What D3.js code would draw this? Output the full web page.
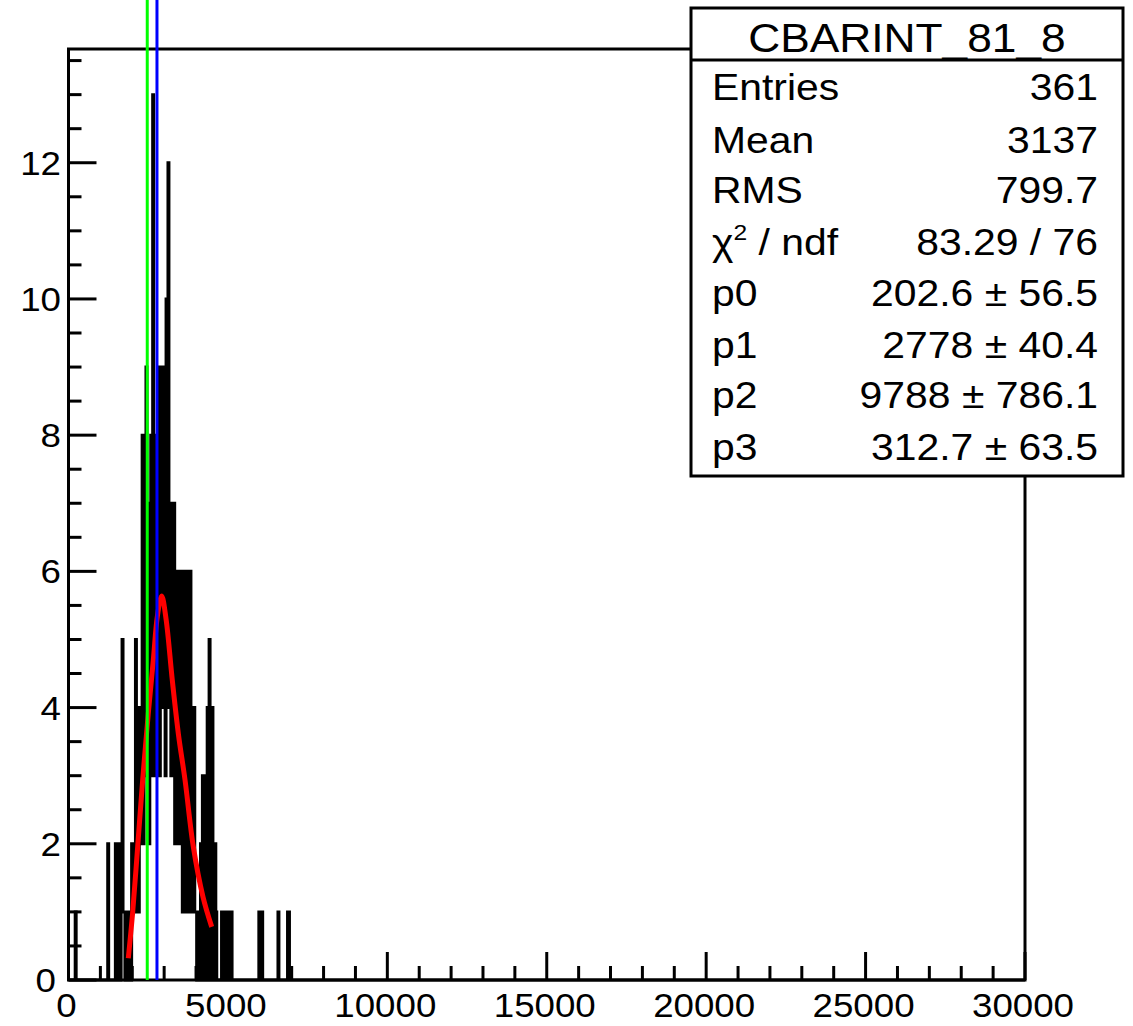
<!DOCTYPE html>
<html><head><meta charset="utf-8">
<script src="https://cdn.jsdelivr.net/npm/d3@7"></script>
<style>
body{margin:0;background:#fff}
svg{display:block}
text{font-family:"Liberation Sans",Arial,Helvetica,sans-serif;fill:#000}
</style>
</head><body>
<svg id="c" width="1133" height="1026"></svg>
<script>
// ---------------- data ----------------
const histName = "CBARINT_81_8";
const binWidth = 30;            // 1000 bins over 0..30000
const xDomain = [0, 30000];
const yDomain = [0, 13.67];
// bin contents, bin i covers [i*30, (i+1)*30)
const binCounts = [
  0,0,0,0,0,0,0,1,0,0,
  0,0,0,0,0,0,0,0,0,0,
  0,0,0,0,0,0,0,0,0,0,
  0,0,0,0,0,0,0,0,0,0,
  0,2,0,0,0,0,0,0,0,2,
  1,0,2,0,0,1,5,1,1,0,
  1,1,0,1,1,0,2,1,2,1,
  5,1,3,1,4,2,3,8,2,8,
  3,9,3,7,2,4,8,3,13,4,
  7,3,8,4,9,3,9,4,9,4,
  5,3,10,4,12,5,7,3,7,4,
  7,2,6,2,6,2,6,2,2,1,
  6,2,6,1,3,6,1,6,2,4,
  1,4,1,1,0,1,0,0,2,0,
  3,1,0,3,1,4,0,5,1,0,
  4,1,0,2,1,0,0,0,0,0,
  1,0,1,1,0,1,0,1,1,0,
  1,0,0,0,0,0,0,0,0,0,
  0,0,0,0,0,0,0,0,0,0,
  0,0,0,0,0,0,0,0,0,1,
  0,1,1,0,0,0,0,0,0,0,
  0,0,0,0,0,0,0,0,0,1,
  0,0,0,0,0,0,0,0,0,1,
  1
];
// fitted curve (x value, count)
const fitCurveX = [1876, 2014, 2170, 2327, 2500, 2660, 2790, 2923, 3060, 3256, 3450, 3654, 3914, 4218, 4491];
const fitCurveY = [0.32, 1.00, 1.96, 2.94, 3.90, 4.70, 5.35, 5.64, 5.30, 4.40, 3.60, 2.94, 1.96, 1.22, 0.78];
const xMajorTicks = [0, 5000, 10000, 15000, 20000, 25000, 30000];
const xTickLabels = ["0", "5000", "10000", "15000", "20000", "25000", "30000"];
const yMajorTicks = [0, 2, 4, 6, 8, 10, 12];
const yTickLabels = ["0", "2", "4", "6", "8", "10", "12"];
const statLabels = ["Entries", "Mean", "RMS", "chi2", "p0", "p1", "p2", "p3"];
const statValues = ["361", "3137", "799.7", "83.29 / 76", "202.6 \u00b1 56.5", "2778 \u00b1 40.4", "9788 \u00b1 786.1", "312.7 \u00b1 63.5"];
const markerX = [2470, 2775];
const markerColors = ["#00ff00", "#0000ff"];
const markerTop = 14.4;

// ---------------- layout ----------------
const svg = d3.select("#c");
const L = 68.5, R = 1025, T = 49, B = 980;
const x = d3.scaleLinear().domain(xDomain).range([L, R]);
const y = d3.scaleLinear().domain(yDomain).range([B, T]);
const SX = 1.13;

// frame
svg.append("rect").attr("x", L).attr("y", T).attr("width", R - L).attr("height", B - T)
  .attr("fill", "none").attr("stroke", "#000").attr("stroke-width", 3);

// x ticks (major 5000, minor 1000)
const xMinor = d3.range(0, 30001, 1000);
svg.append("g").selectAll("line").data(xMinor).join("line")
  .attr("x1", d => x(d)).attr("x2", d => x(d))
  .attr("y1", B).attr("y2", d => B - (d % 5000 === 0 ? 28 : 14))
  .attr("stroke", "#000").attr("stroke-width", 3);
// y ticks (major 2, minor 0.5)
const yMinor = d3.range(0, 13.51, 0.5);
svg.append("g").selectAll("line").data(yMinor).join("line")
  .attr("y1", d => y(d)).attr("y2", d => y(d))
  .attr("x1", L).attr("x2", d => L + (Math.abs(d / 2 - Math.round(d / 2)) < 1e-6 ? 28 : 13))
  .attr("stroke", "#000").attr("stroke-width", 3);

// tick labels
svg.append("g").selectAll("text").data(xMajorTicks).join("text")
  .attr("transform", d => `translate(${x(d) - 2},1017) scale(${SX},1)`)
  .attr("text-anchor", "middle").attr("font-size", 32.5)
  .text((d, i) => xTickLabels[i]);
svg.append("g").selectAll("text").data(yMajorTicks).join("text")
  .attr("transform", d => `translate(${d === 0 ? 56 : 61},${y(d) + 12}) scale(${SX},1)`)
  .attr("text-anchor", "end").attr("font-size", 32.5)
  .text((d, i) => yTickLabels[i]);

// histogram outline
const pts = [[xDomain[0], 0]];
binCounts.forEach((c, i) => { pts.push([i * binWidth, c]); pts.push([(i + 1) * binWidth, c]); });
pts.push([binCounts.length * binWidth, 0]);
pts.push([xDomain[1], 0]);
svg.append("path").attr("d", d3.line().x(d => x(d[0])).y(d => y(d[1]))(pts))
  .attr("fill", "none").attr("stroke", "#000").attr("stroke-width", 3)
  .attr("stroke-linejoin", "miter");

// fitted curve
svg.append("path")
  .attr("d", d3.line().curve(d3.curveCatmullRom.alpha(0.5))
    .x((d, i) => x(d)).y((d, i) => y(fitCurveY[i]))(fitCurveX))
  .attr("fill", "none").attr("stroke", "#ff0000").attr("stroke-width", 5);

// vertical marker lines
svg.append("g").selectAll("line").data(markerX).join("line")
  .attr("x1", d => x(d)).attr("x2", d => x(d))
  .attr("y1", y(0)).attr("y2", y(markerTop))
  .attr("stroke", (d, i) => markerColors[i]).attr("stroke-width", 3);

// stats box
const bx = 691, by = 8, bw = 432, bh = 468;
svg.append("rect").attr("x", bx).attr("y", by).attr("width", bw).attr("height", bh)
  .attr("fill", "#fff").attr("stroke", "#000").attr("stroke-width", 3);
svg.append("line").attr("x1", bx).attr("x2", bx + bw).attr("y1", 60).attr("y2", 60)
  .attr("stroke", "#000").attr("stroke-width", 3);
svg.append("text").attr("transform", `translate(${bx + bw / 2},52) scale(1.08,1)`)
  .attr("text-anchor", "middle").attr("font-size", 41).text(histName);
const rowBase = [100, 153, 203, 255, 306, 358, 408, 460];
statLabels.forEach((lab, i) => {
  const t = svg.append("text").attr("transform", `translate(712,${rowBase[i]}) scale(1.12,1)`)
    .attr("font-size", 36.5);
  if (lab === "chi2") {
    t.append("tspan").text("\u03c7");
    t.append("tspan").attr("font-size", 22).attr("dy", -15).text("2");
    t.append("tspan").attr("dy", 15).text(" / ndf");
  } else t.text(lab);
  svg.append("text").attr("transform", `translate(1098,${rowBase[i]}) scale(1.12,1)`)
    .attr("text-anchor", "end").attr("font-size", 36.5).text(statValues[i]);
});
</script>
</body></html>
